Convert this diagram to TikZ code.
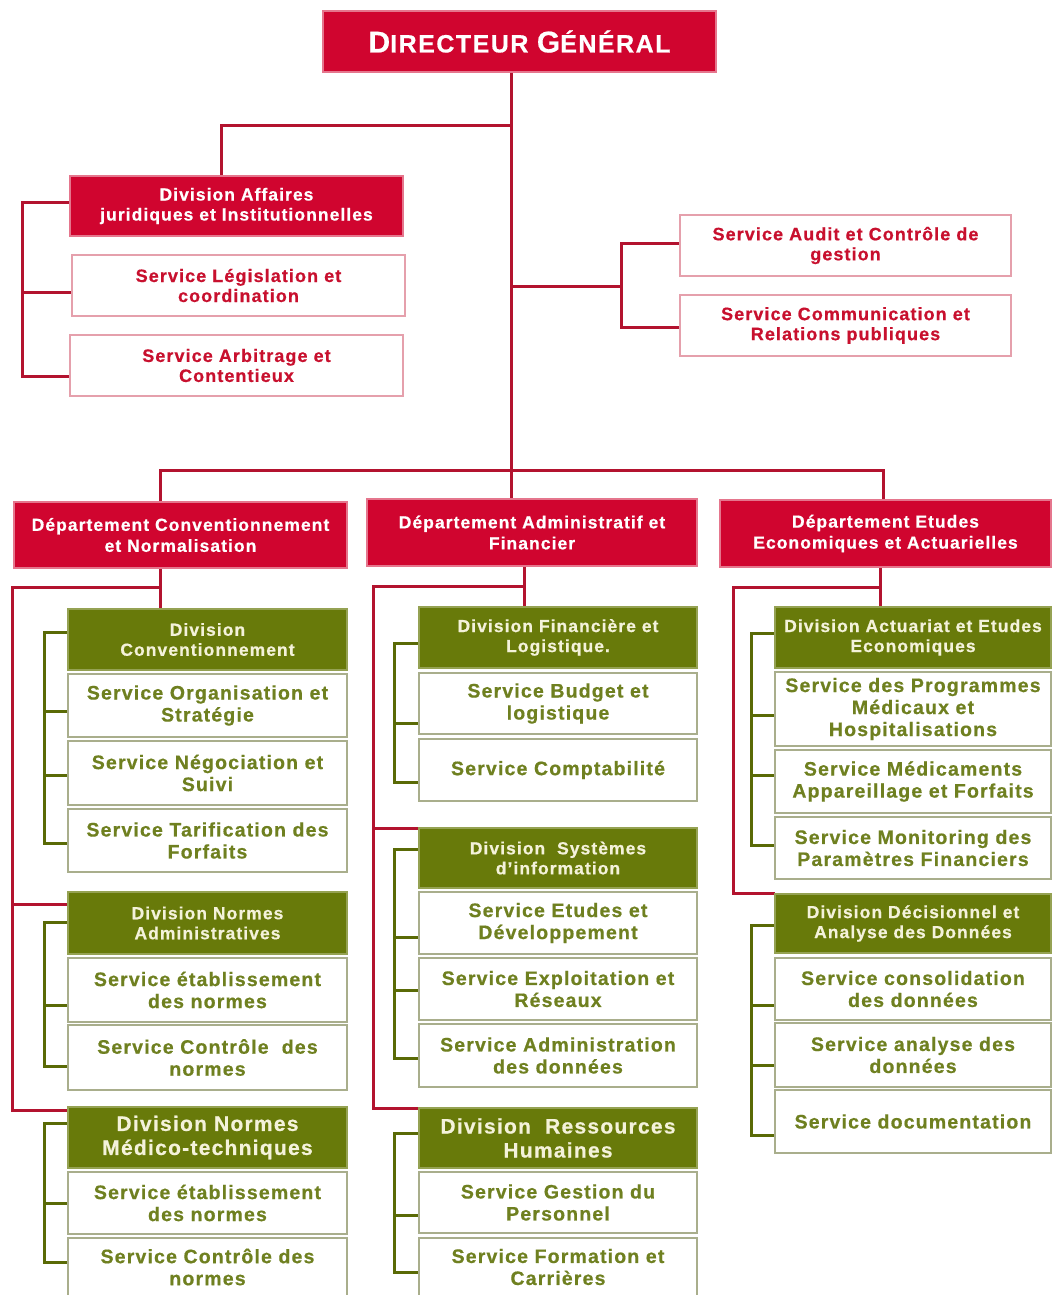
\documentclass[tikz,border=0pt]{standalone}
\usepackage{fontspec}
\setmainfont{Liberation Sans}[LetterSpace=6, BoldFeatures={FakeBold=0.6}]
\usetikzlibrary{backgrounds}
\definecolor{redF}{HTML}{D0052F}
\definecolor{redL}{HTML}{B3132F}
\definecolor{redT}{HTML}{C8102E}
\definecolor{redB}{HTML}{E5A0AC}
\definecolor{grnF}{HTML}{687A0A}
\definecolor{grnL}{HTML}{5A6A06}
\definecolor{grnT}{HTML}{6F8020}
\definecolor{grnB}{HTML}{A9AE8C}
\definecolor{cream}{HTML}{F4F2DA}
\newcommand\bx[7]{\node[#6, minimum width={#4-#2}, minimum height={#5-#3}] (#1) at ({(#2+#4)/2},{(#3+#5)/2}) {#7};}
\tikzset{
  base/.style={rectangle, inner sep=1pt, outer sep=0pt, align=center},
  dgbox/.style={base, fill=redF, draw=redF!55!white, line width=2pt, text=white},
  redhd/.style={base, fill=redF, draw=redF!55!white, line width=2pt, text=white,
    font=\bfseries\fontsize{17.5}{20}\selectfont},
  redsv/.style={base, fill=white, draw=redB, line width=1.5pt, text=redT,
    font=\bfseries\fontsize{18}{20}\selectfont},
  dept/.style={base, fill=redF, draw=redF!55!white, line width=2pt, text=white,
    font=\bfseries\fontsize{17.5}{21}\selectfont},
  grnhd/.style={base, fill=grnF, draw=grnF!70!white, line width=2pt, text=cream,
    font=\bfseries\fontsize{17.5}{20}\selectfont},
  grnbig/.style={grnhd, font=\bfseries\fontsize{21}{24}\selectfont},
  grnsv/.style={base, fill=white, draw=grnB, line width=1.5pt, text=grnT,
    font=\bfseries\fontsize{19.5}{22}\selectfont},
  rl/.style={draw=redL, line width=3pt, line join=miter},
  gl/.style={draw=grnL, line width=3pt, line join=miter},
}
\begin{document}
\begin{tikzpicture}[x=1pt,y=-1pt]
\useasboundingbox (0,0) rectangle (1053,1295);
% ---------- top ----------
\bx{dg}{323}{11}{716}{72}{dgbox}{\bfseries{\fontsize{30}{30}\selectfont D}{\fontsize{25}{30}\selectfont IRECTEUR }{\fontsize{30}{30}\selectfont G}{\fontsize{25}{30}\selectfont ÉNÉRAL}}
\bx{divaff}{70}{176}{403}{236}{redhd}{Division Affaires\\juridiques et Institutionnelles}
\bx{leg}{72}{255}{405}{316}{redsv}{Service Législation et\\coordination}
\bx{arb}{70}{335}{403}{396}{redsv}{Service Arbitrage et\\Contentieux}
\bx{audit}{680}{215}{1011}{276}{redsv}{Service Audit et Contrôle de\\gestion}
\bx{comm}{680}{295}{1011}{356}{redsv}{Service Communication et\\Relations publiques}
% ---------- departments ----------
\bx{dconv}{14}{502}{347}{568}{dept}{Département Conventionnement\\et Normalisation}
\bx{dadm}{367}{499}{697}{566}{dept}{Département Administratif et\\Financier}
\bx{detu}{720}{500}{1051}{567}{dept}{Département Etudes\\Economiques et Actuarielles}
% ---------- column 1 ----------
\bx{divconv}{68}{609}{347}{670}{grnhd}{Division\\Conventionnement}
\bx{sorg}{68}{674}{347}{737}{grnsv}{Service Organisation et\\Stratégie}
\bx{sneg}{68}{741}{347}{805}{grnsv}{Service Négociation et\\Suivi}
\bx{star}{68}{809}{347}{872}{grnsv}{Service Tarification des\\Forfaits}
\bx{divna}{68}{892}{347}{954}{grnhd}{Division Normes\\Administratives}
\bx{setaba}{68}{958}{347}{1022}{grnsv}{Service établissement\\des normes}
\bx{sctrla}{68}{1025}{347}{1090}{grnsv}{Service Contrôle\ \ des\\normes}
\bx{divnm}{68}{1107}{347}{1168}{grnbig}{Division Normes\\Médico-techniques}
\bx{setabb}{68}{1172}{347}{1234}{grnsv}{Service établissement\\des normes}
\bx{sctrlb}{68}{1238}{347}{1296}{grnsv}{Service Contrôle des\\normes}
% ---------- column 2 ----------
\bx{divfin}{419}{607}{697}{668}{grnhd}{Division Financière et\\Logistique.}
\bx{sbud}{419}{673}{697}{734}{grnsv}{Service Budget et\\logistique}
\bx{scpt}{419}{739}{697}{801}{grnsv}{Service Comptabilité}
\bx{divsys}{419}{828}{697}{888}{grnhd}{Division\ \ Systèmes\\d’information}
\bx{setu}{419}{892}{697}{954}{grnsv}{Service Etudes et\\Développement}
\bx{sexp}{419}{958}{697}{1020}{grnsv}{Service Exploitation et\\Réseaux}
\bx{sadm}{419}{1024}{697}{1087}{grnsv}{Service Administration\\des données}
\bx{divrh}{419}{1108}{697}{1168}{grnbig}{Division\ \ Ressources\\Humaines}
\bx{sges}{419}{1172}{697}{1233}{grnsv}{Service Gestion du\\Personnel}
\bx{sfor}{419}{1238}{697}{1296}{grnsv}{Service Formation et\\Carrières}
% ---------- column 3 ----------
\bx{divact}{775}{607}{1051}{668}{grnhd}{Division Actuariat et Etudes\\Economiques}
\bx{sprog}{775}{672}{1051}{746}{grnsv}{Service des Programmes\\Médicaux et\\Hospitalisations}
\bx{smed}{775}{750}{1051}{813}{grnsv}{Service Médicaments\\Appareillage et Forfaits}
\bx{smon}{775}{817}{1051}{879}{grnsv}{Service Monitoring des\\Paramètres Financiers}
\bx{divdec}{775}{894}{1051}{953}{grnhd}{Division Décisionnel et\\Analyse des Données}
\bx{scons}{775}{958}{1051}{1020}{grnsv}{Service consolidation\\des données}
\bx{sana}{775}{1023}{1051}{1087}{grnsv}{Service analyse des\\données}
\bx{sdoc}{775}{1090}{1051}{1153}{grnsv}{Service documentation}
% ---------- connectors ----------
\begin{pgfonlayer}{background}
\fill[white] (0,0) rectangle (1053,1295);
\coordinate (spx) at (511,0);
\coordinate (affx) at (221,126);
\coordinate (lbx) at (22,0);
\coordinate (rbx) at (621,0);
\coordinate (busy) at (0,470);
\coordinate (c1x) at (160,0);
\coordinate (c2x) at (524,0);
\coordinate (c3x) at (883,0);
\coordinate (c3bx) at (880,0);
\coordinate (l1x) at (12,0);
\coordinate (l2x) at (373,0);
\coordinate (l3x) at (733,0);
\coordinate (g1x) at (44,0);
\coordinate (g2x) at (394,0);
\coordinate (g3x) at (751,0);
% spine
\draw[rl] (dg.south -| spx) -- (dadm.north -| spx);
\draw[rl] (spx |- affx) -| (divaff.north -| affx);
% left top bracket
\draw[rl] (divaff.west |- 0,202) -- (lbx |- 0,202) -- (lbx |- 0,376) -- (arb.west |- 0,376);
\draw[rl] (leg.west |- 0,292) -- (lbx |- 0,292);
% right top bracket
\draw[rl] (spx |- 0,286) -- (rbx |- 0,286);
\draw[rl] (audit.west |- 0,243) -- (rbx |- 0,243) -- (rbx |- 0,327) -- (comm.west |- 0,327);
% department bus
\draw[rl] (c1x |- dconv.north) -- (c1x |- busy) -- (c3x |- busy) -- (c3x |- detu.north);
% column 1
\draw[rl] (c1x |- dconv.south) -- (c1x |- divconv.north);
\draw[rl] (c1x |- 0,587) -- (l1x |- 0,587) -- (l1x |- 0,1110) -- (divnm.west |- 0,1110);
\draw[rl] (l1x |- 0,904) -- (divna.west |- 0,904);
% column 2
\draw[rl] (c2x |- dadm.south) -- (c2x |- divfin.north);
\draw[rl] (c2x |- 0,586) -- (l2x |- 0,586) -- (l2x |- 0,1108) -- (divrh.west |- 0,1108);
\draw[rl] (l2x |- 0,828) -- (divsys.west |- 0,828);
% column 3
\draw[rl] (c3bx |- detu.south) -- (c3bx |- divact.north);
\draw[rl] (c3bx |- 0,587) -- (l3x |- 0,587) -- (l3x |- 0,893) -- (divdec.west |- 0,893);
% green brackets col 1
\draw[gl] (divconv.west |- 0,632) -- (g1x |- 0,632) -- (g1x |- 0,843) -- (star.west |- 0,843);
\draw[gl] (sorg.west |- 0,711) -- (g1x |- 0,711);
\draw[gl] (sneg.west |- 0,775) -- (g1x |- 0,775);
\draw[gl] (divna.west |- 0,922) -- (g1x |- 0,922) -- (g1x |- 0,1066) -- (sctrla.west |- 0,1066);
\draw[gl] (setaba.west |- 0,1005) -- (g1x |- 0,1005);
\draw[gl] (divnm.west |- 0,1123) -- (g1x |- 0,1123) -- (g1x |- 0,1262) -- (sctrlb.west |- 0,1262);
\draw[gl] (setabb.west |- 0,1203) -- (g1x |- 0,1203);
% green brackets col 2
\draw[gl] (divfin.west |- 0,643) -- (g2x |- 0,643) -- (g2x |- 0,782) -- (scpt.west |- 0,782);
\draw[gl] (sbud.west |- 0,723) -- (g2x |- 0,723);
\draw[gl] (divsys.west |- 0,849) -- (g2x |- 0,849) -- (g2x |- 0,1058) -- (sadm.west |- 0,1058);
\draw[gl] (setu.west |- 0,937) -- (g2x |- 0,937);
\draw[gl] (sexp.west |- 0,990) -- (g2x |- 0,990);
\draw[gl] (divrh.west |- 0,1133) -- (g2x |- 0,1133) -- (g2x |- 0,1272) -- (sfor.west |- 0,1272);
\draw[gl] (sges.west |- 0,1215) -- (g2x |- 0,1215);
% green brackets col 3
\draw[gl] (divact.west |- 0,633) -- (g3x |- 0,633) -- (g3x |- 0,845) -- (smon.west |- 0,845);
\draw[gl] (sprog.west |- 0,715) -- (g3x |- 0,715);
\draw[gl] (smed.west |- 0,775) -- (g3x |- 0,775);
\draw[gl] (divdec.west |- 0,925) -- (g3x |- 0,925) -- (g3x |- 0,1135) -- (sdoc.west |- 0,1135);
\draw[gl] (scons.west |- 0,1005) -- (g3x |- 0,1005);
\draw[gl] (sana.west |- 0,1065) -- (g3x |- 0,1065);
\end{pgfonlayer}
\end{tikzpicture}
\end{document}
